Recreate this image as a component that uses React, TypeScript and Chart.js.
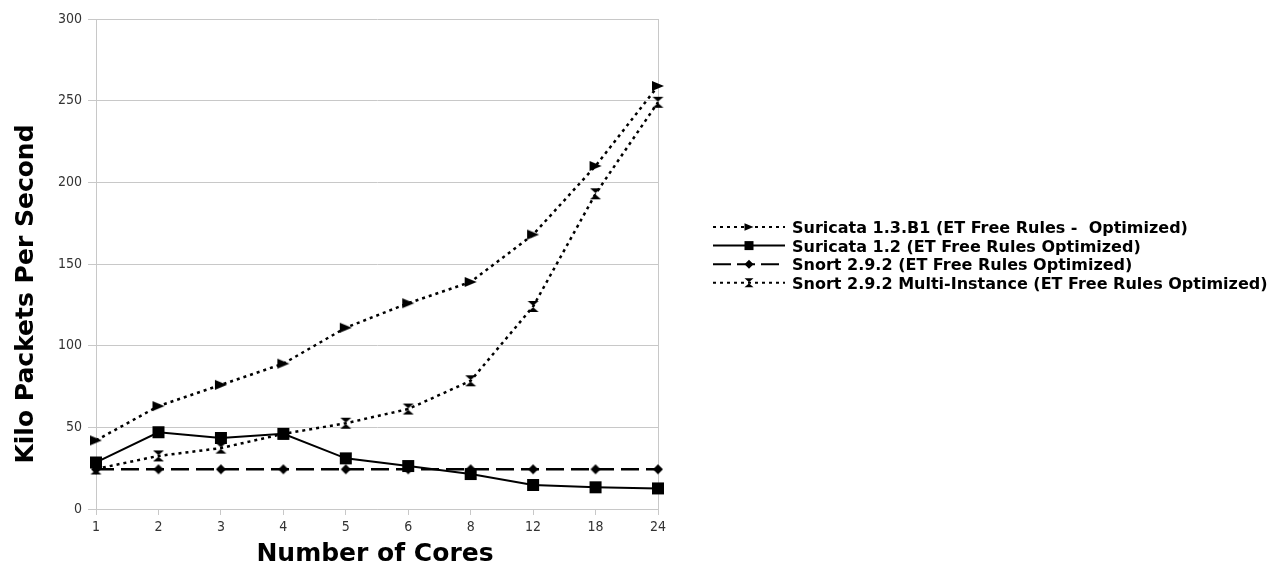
import React, { useEffect, useRef } from "react";
import { Chart, registerables } from "chart.js";

Chart.register(...registerables);

// ---- data ----
const categories = ["1", "2", "3", "4", "5", "6", "8", "12", "18", "24"];
const suricata13b1 = [42, 63, 76, 89, 111, 126, 139, 168, 210, 259];
const suricata12 = [28.5, 47, 43.5, 46, 31, 26.3, 21.4, 14.7, 13.3, 12.6];
const snort292 = [24.3, 24.3, 24.3, 24.3, 24.3, 24.3, 24.3, 24.3, 24.3, 24.3];
const snortMulti = [24.5, 32.5, 37.3, 46, 52.5, 61.2, 78.5, 124, 193, 249];
const seriesLabels = [
  "Suricata 1.3.B1 (ET Free Rules -  Optimized)",
  "Suricata 1.2 (ET Free Rules Optimized)",
  "Snort 2.9.2 (ET Free Rules Optimized)",
  "Snort 2.9.2 Multi-Instance (ET Free Rules Optimized)",
];
const yMin = 0;
const yMax = 300;
const yStep = 50;
const xTitle = "Number of Cores";
const yTitle = "Kilo Packets Per Second";

// ---- styling ----
type MStyle = "triRight" | "square" | "diamond" | "hourglass";
const markerStyles: MStyle[] = ["triRight", "square", "diamond", "hourglass"];
const dashes: number[][] = [[3, 4], [], [18, 7], [3, 4]];
const widths = [2.5, 2, 2.5, 2.5];
const markerR = [6, 6, 5, 5.5];
const GRID = "#c8c8c8";

function tracePath(ctx: CanvasRenderingContext2D, style: MStyle, x: number, y: number, r: number) {
  ctx.beginPath();
  if (style === "triRight") {
    ctx.moveTo(x + r, y);
    ctx.lineTo(x - r, y - r * 0.85);
    ctx.lineTo(x - r, y + r * 0.85);
    ctx.closePath();
  } else if (style === "square") {
    ctx.rect(x - r, y - r, 2 * r, 2 * r);
  } else if (style === "diamond") {
    ctx.moveTo(x, y - r);
    ctx.lineTo(x + r, y);
    ctx.lineTo(x, y + r);
    ctx.lineTo(x - r, y);
    ctx.closePath();
  } else {
    ctx.moveTo(x - r, y - r);
    ctx.lineTo(x + r, y - r);
    ctx.lineTo(x - r * 0.15, y);
    ctx.lineTo(x + r, y + r);
    ctx.lineTo(x - r, y + r);
    ctx.lineTo(x + r * 0.15, y);
    ctx.closePath();
  }
}

function makeMarker(style: MStyle, r: number): HTMLCanvasElement {
  const size = Math.ceil(r * 2 + 2);
  const c = document.createElement("canvas");
  c.width = size;
  c.height = size;
  const ctx = c.getContext("2d")!;
  ctx.fillStyle = "#000";
  tracePath(ctx, style, size / 2, size / 2, r);
  ctx.fill();
  return c;
}

const decorPlugin = {
  id: "decor",
  afterDraw(chart: any) {
    const ctx: CanvasRenderingContext2D = chart.ctx;
    ctx.save();
    ctx.fillStyle = "#000";
    ctx.font = "bold 25px 'DejaVu Sans'";
    ctx.textAlign = "center";
    ctx.textBaseline = "alphabetic";
    ctx.fillText(xTitle, 375, 561);
    ctx.save();
    ctx.translate(33, 294);
    ctx.rotate(-Math.PI / 2);
    ctx.fillText(yTitle, 0, 0);
    ctx.restore();

    // legend
    ctx.textAlign = "left";
    ctx.font = "bold 16px 'DejaVu Sans'";
    seriesLabels.forEach((label, i) => {
      const y = 227 + i * 18.6;
      ctx.save();
      ctx.strokeStyle = "#000";
      ctx.lineWidth = 2;
      ctx.setLineDash(i === 2 ? [18, 6] : dashes[i]);
      ctx.beginPath();
      ctx.moveTo(713, y);
      ctx.lineTo(785, y);
      ctx.stroke();
      ctx.restore();
      ctx.fillStyle = "#000";
      tracePath(ctx, markerStyles[i], 749, y, 4.5);
      ctx.fill();
      ctx.fillText(label, 792, y + 6);
    });
    ctx.restore();
  },
};

export default function App() {
  const ref = useRef<HTMLCanvasElement | null>(null);
  useEffect(() => {
    if (!ref.current) return;
    const seriesData = [suricata13b1, suricata12, snort292, snortMulti];
    const chart = new Chart(ref.current, {
      type: "line",
      data: {
        labels: categories,
        datasets: seriesData.map((d, i) => ({
          label: seriesLabels[i],
          data: d,
          borderColor: "#000",
          backgroundColor: "#000",
          borderWidth: widths[i],
          borderDash: dashes[i],
          pointStyle: makeMarker(markerStyles[i], markerR[i]) as any,
          pointRadius: markerR[i],
          tension: 0,
          fill: false,
        })),
      },
      options: {
        responsive: false,
        animation: false,
        layout: { padding: { top: 19, right: 618, left: 0, bottom: 0 } },
        plugins: { legend: { display: false }, title: { display: false }, tooltip: { enabled: false } },
        scales: {
          x: {
            type: "category",
            offset: false,
            grid: {
              color: (c: any) => (c.index === 0 || c.index === categories.length - 1 ? GRID : "rgba(0,0,0,0)"),
              tickColor: GRID,
              tickLength: 6,
            },
            border: { display: true, color: GRID },
            ticks: {
              color: "#333",
              padding: 4,
              maxRotation: 0,
              autoSkip: false,
              font: { family: "'DejaVu Sans Condensed', 'DejaVu Sans'", size: 14 },
            },
            afterFit: (s: any) => {
              s.height = 56;
            },
          },
          y: {
            min: yMin,
            max: yMax,
            grid: { color: GRID, tickColor: GRID, tickLength: 8 },
            border: { display: true, color: GRID },
            ticks: {
              stepSize: yStep,
              color: "#333",
              padding: 6,
              font: { family: "'DejaVu Sans Condensed', 'DejaVu Sans'", size: 14 },
            },
            afterFit: (s: any) => {
              s.width = 96;
            },
          },
        },
      },
      plugins: [decorPlugin],
    });
    return () => chart.destroy();
  }, []);
  return (
    <div style={{ position: "fixed", left: 0, top: 0, width: 1276, height: 565, background: "#fff" }}>
      <canvas ref={ref} width={1276} height={565} style={{ display: "block" }} />
    </div>
  );
}
